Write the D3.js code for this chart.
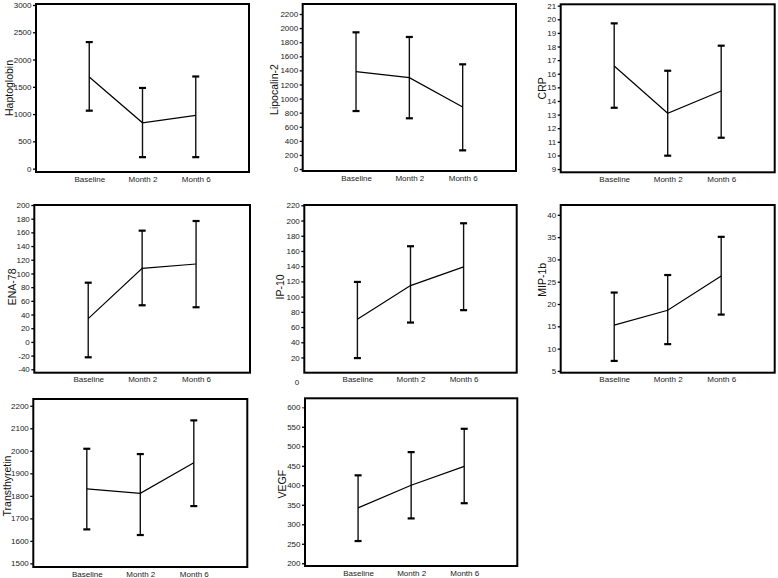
<!DOCTYPE html>
<html>
<head>
<meta charset="utf-8">
<script src="https://cdn.jsdelivr.net/npm/d3@7"></script>
<style>
  html, body { margin: 0; padding: 0; background: #fff; }
  svg { display: block; font-family: "Liberation Sans", Arial, sans-serif; }
</style>
</head>
<body>
<svg id="chart" width="778" height="578"></svg>
<script>
// ---------------- data ----------------
const categories = ["Baseline", "Month 2", "Month 6"];
const markers = ["Haptoglobin", "Lipocalin-2", "CRP", "ENA-78", "IP-10", "MIP-1b", "Transthyretin", "VEGF"];

const haptoMean = [1680, 841, 976];
const haptoUpper = [2320, 1479, 1689];
const haptoLower = [1062, 210, 210];

const lipoMean = [1381, 1296, 880];
const lipoUpper = [1940, 1874, 1486];
const lipoLower = [823, 720, 265];

const crpMean = [16.57, 13.1, 14.73];
const crpUpper = [19.7, 16.22, 18.06];
const crpLower = [13.5, 9.98, 11.3];

const enaMean = [34, 107.5, 113.8];
const enaUpper = [86.5, 162.5, 176.6];
const enaLower = [-22.5, 53.5, 50.6];

const ipMean = [70.4, 114.5, 139];
const ipUpper = [119.3, 166.2, 196.4];
const ipLower = [19.2, 65.9, 82.2];

const mipMean = [15.25, 18.6, 26.3];
const mipUpper = [22.57, 26.5, 35.06];
const mipLower = [7.24, 11, 17.63];

const ttrMean = [1831, 1811, 1947];
const ttrUpper = [2009, 1985.5, 2135];
const ttrLower = [1651, 1626, 1754.5];

const vegfMean = [342, 400, 448.5];
const vegfUpper = [425.5, 485, 544.8];
const vegfLower = [257, 315, 354];

const means = [haptoMean, lipoMean, crpMean, enaMean, ipMean, mipMean, ttrMean, vegfMean];
const uppers = [haptoUpper, lipoUpper, crpUpper, enaUpper, ipUpper, mipUpper, ttrUpper, vegfUpper];
const lowers = [haptoLower, lipoLower, crpLower, enaLower, ipLower, mipLower, ttrLower, vegfLower];

const haptoTicks = [0, 500, 1000, 1500, 2000, 2500, 3000];
const lipoTicks = [0, 200, 400, 600, 800, 1000, 1200, 1400, 1600, 1800, 2000, 2200];
const crpTicks = [9, 10, 11, 12, 13, 14, 15, 16, 17, 18, 19, 20, 21];
const enaTicks = [-40, -20, 0, 20, 40, 60, 80, 100, 120, 140, 160, 180, 200];
const ipTicks = [0, 20, 40, 60, 80, 100, 120, 140, 160, 180, 200, 220];
const mipTicks = [5, 10, 15, 20, 25, 30, 35, 40];
const ttrTicks = [1500, 1600, 1700, 1800, 1900, 2000, 2100, 2200];
const vegfTicks = [200, 250, 300, 350, 400, 450, 500, 550, 600];
const yTicks = [haptoTicks, lipoTicks, crpTicks, enaTicks, ipTicks, mipTicks, ttrTicks, vegfTicks];

const yDomains = [[-62, 3018], [-28, 2342], [8.76, 21.1], [-45, 200], [0, 220.4], [4.6, 42.2], [1484, 2230], [193, 623]];

// ---------------- layout ----------------
// box: [left, top, right, bottom], title offset from left edge
const boxes = [
  [36, 4, 249, 172], [302.7, 4, 516, 171], [560.7, 4.3, 774.7, 172.3],
  [34.3, 205, 250, 372.7], [304.3, 205, 516.7, 372.7], [560.7, 205, 774.7, 372.7],
  [33.3, 399, 247.3, 567], [305, 398.3, 517.3, 566]
];
const titleOffsets = [-27, -28, -18, -22, -24, -18, -26, -23];
const titleDy = [0, 2, 0, -2, -2, -9, 3, 2];

const svg = d3.select("#chart");

markers.forEach((name, i) => {
  const [l, t, r, b] = boxes[i];
  const x = d3.scalePoint().domain(categories).range([l, r]).padding(1);
  const y = d3.scaleLinear().domain(yDomains[i]).range([b, t]);
  const g = svg.append("g");

  // y axis
  const ya = g.append("g")
    .attr("transform", `translate(${l},0)`)
    .call(d3.axisLeft(y).tickValues(yTicks[i]).tickSize(3).tickPadding(1.5).tickFormat(d => String(d)));
  ya.select(".domain").remove();
  ya.selectAll("line").attr("stroke", "#000").attr("stroke-width", 1.3);
  ya.selectAll("text").attr("font-size", 8).attr("fill", "#222");

  if (name === "IP-10") {
    const zeroTick = ya.selectAll(".tick").filter(d => d === 0);
    zeroTick.select("line").remove();
    zeroTick.select("text").attr("x", -5).attr("dy", "1.5em");
  }
  if (name === "VEGF") {
    ya.selectAll(".tick").filter(d => d === 600).select("line").attr("stroke", "#e03020");
  }

  // x axis labels
  const xa = g.append("g")
    .attr("transform", `translate(0,${b})`)
    .call(d3.axisBottom(x).tickSize(0).tickPadding(4));
  xa.select(".domain").remove();
  xa.selectAll("text").attr("font-size", 8).attr("fill", "#222");

  // frame
  g.append("rect")
    .attr("x", l).attr("y", t).attr("width", r - l).attr("height", b - t)
    .attr("fill", "none").attr("stroke", "#000").attr("stroke-width", 2);

  // y title
  g.append("text")
    .attr("transform", `translate(${l + titleOffsets[i]},${(t + b) / 2 + titleDy[i]}) rotate(-90)`)
    .attr("text-anchor", "middle")
    .attr("dy", "0.35em")
    .attr("font-size", 10.5)
    .attr("fill", "#111")
    .text(name);

  // error bars
  const rows = categories.map((c, k) => ({ c, m: means[i][k], u: uppers[i][k], lo: lowers[i][k] }));
  g.selectAll(".eb").data(rows).enter().append("line")
    .attr("x1", d => x(d.c)).attr("x2", d => x(d.c))
    .attr("y1", d => y(d.u)).attr("y2", d => y(d.lo))
    .attr("stroke", "#111").attr("stroke-width", 1.4);
  ["u", "lo"].forEach(key => {
    g.selectAll(".cap" + key).data(rows).enter().append("line")
      .attr("x1", d => x(d.c) - 3.5).attr("x2", d => x(d.c) + 3.5)
      .attr("y1", d => y(d[key])).attr("y2", d => y(d[key]))
      .attr("stroke", "#000").attr("stroke-width", 2.2);
  });

  // mean line
  g.append("path")
    .datum(rows)
    .attr("fill", "none").attr("stroke", "#000").attr("stroke-width", 1.2)
    .attr("d", d3.line().x(d => x(d.c)).y(d => y(d.m)));
});
</script>
</body>
</html>
